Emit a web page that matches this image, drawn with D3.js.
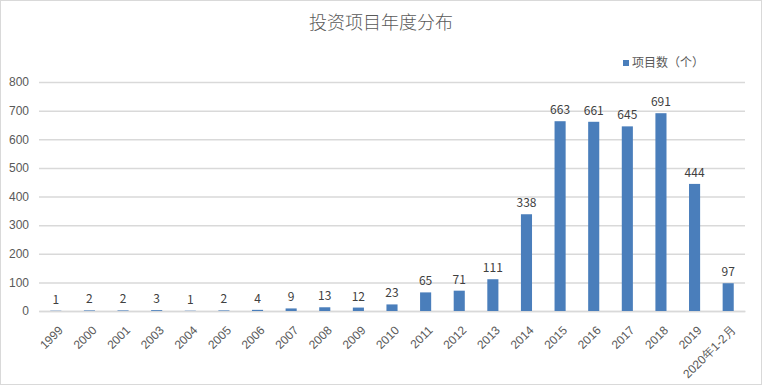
<!DOCTYPE html>
<html>
<head>
<meta charset="utf-8">
<script src="https://cdn.jsdelivr.net/npm/d3@7"></script>
<style>
  body { margin: 0; background: #fff; }
  svg { display: block; font-family: "Noto Sans CJK SC", "Noto Sans", sans-serif; }
</style>
</head>
<body>
<div id="chart"></div>
<script>
/* DATA */
const years = ["1999", "2000", "2001", "2003", "2004", "2005", "2006", "2007", "2008", "2009", "2010",
  "2011", "2012", "2013", "2014", "2015", "2016", "2017", "2018", "2019", "2020年1-2月"];
const counts = [1, 2, 2, 3, 1, 2, 4, 9, 13, 12, 23, 65, 71, 111, 338, 663, 661, 645, 691, 444, 97];
const yTicks = [0, 100, 200, 300, 400, 500, 600, 700, 800];
const title = "投资项目年度分布";
const seriesName = "项目数（个）";

const data = years.map((y, i) => ({ year: y, count: counts[i] }));

/* CONSTANTS */
const width = 762,
  height = 385,
  margin = { top: 82, bottom: 74, left: 39, right: 17 },
  barColor = "#4a7ebb",
  textColor = "#595959";

const svg = d3.select("#chart")
  .append("svg")
  .attr("width", width)
  .attr("height", height);

// outer frame
svg.append("rect")
  .attr("x", 0.5).attr("y", 0.5)
  .attr("width", width - 1).attr("height", height - 1)
  .attr("fill", "#fff")
  .attr("stroke", "#d9d9d9");

/* SCALES */
const xScale = d3.scaleBand()
  .domain(years)
  .range([margin.left, width - margin.right])
  .paddingInner(0.67)
  .paddingOuter(0.335);

const yScale = d3.scaleLinear()
  .domain([0, 800])
  .range([height - margin.bottom, margin.top]);

/* GRIDLINES + Y AXIS */
const yAxis = d3.axisLeft(yScale)
  .tickValues(yTicks)
  .tickSize(-(width - margin.left - margin.right))
  .tickPadding(10);

svg.append("g")
  .attr("class", "y-axis")
  .attr("transform", `translate(${margin.left},0)`)
  .call(yAxis)
  .call(g => g.select(".domain").remove())
  .call(g => g.selectAll("line").attr("stroke", "#d9d9d9").attr("stroke-width", 1.5))
  .call(g => g.selectAll("text")
    .attr("fill", textColor)
    .attr("font-size", 12));

/* X AXIS */
const xAxis = d3.axisBottom(xScale).tickSize(0).tickPadding(0);

svg.append("g")
  .attr("class", "x-axis")
  .attr("transform", `translate(0,${height - margin.bottom})`)
  .call(xAxis)
  .call(g => g.select(".domain").attr("stroke", "#d9d9d9").attr("stroke-width", 1.5))
  .call(g => g.selectAll("text")
    .attr("fill", textColor)
    .attr("font-size", 12)
    .attr("text-anchor", "end")
    .attr("y", 0)
    .attr("dy", "0.35em")
    .attr("transform", "translate(5,17) rotate(-45)"));

/* BARS */
svg.selectAll("rect.bar")
  .data(data)
  .join("rect")
  .attr("class", "bar")
  .attr("x", d => xScale(d.year))
  .attr("width", xScale.bandwidth())
  .attr("y", d => yScale(d.count))
  .attr("height", d => yScale(0) - yScale(d.count))
  .attr("fill", barColor);

/* VALUE LABELS */
svg.selectAll("text.value")
  .data(data)
  .join("text")
  .attr("class", "value")
  .attr("x", d => xScale(d.year) + xScale.bandwidth() / 2)
  .attr("y", d => yScale(d.count) - 7)
  .attr("text-anchor", "middle")
  .attr("fill", "#404040")
  .attr("font-size", 12)
  .text(d => d.count);

/* TITLE */
svg.append("text")
  .attr("x", width / 2)
  .attr("y", 29)
  .attr("text-anchor", "middle")
  .attr("fill", textColor)
  .attr("font-size", 18)
  .attr("font-weight", 300)
  .text(title);

/* LEGEND */
const legend = svg.append("g").attr("transform", "translate(623,60)");
legend.append("rect")
  .attr("width", 6).attr("height", 6)
  .attr("fill", barColor);
legend.append("text")
  .attr("x", 9)
  .attr("y", 7)
  .attr("fill", textColor)
  .attr("font-size", 12)
  .text(seriesName);
</script>
</body>
</html>
